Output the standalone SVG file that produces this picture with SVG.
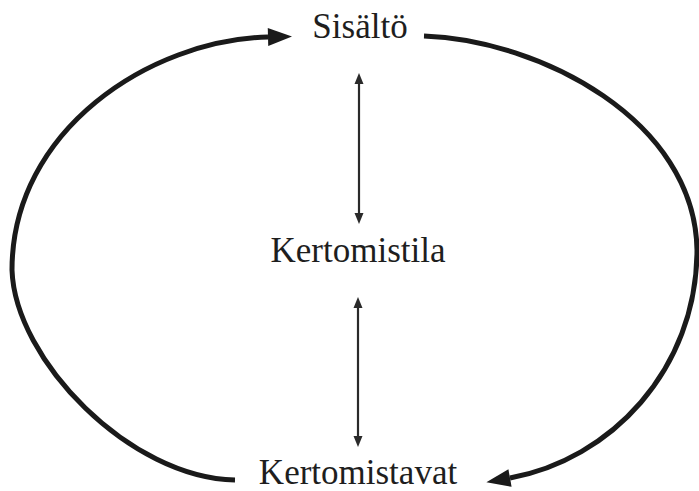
<svg xmlns="http://www.w3.org/2000/svg" width="699" height="491" viewBox="0 0 699 491">
  <style>
    .lbl { font-family: "Liberation Serif", "Times New Roman", serif; font-size: 35px; fill: #1e1e1e; text-anchor: middle; }
    .thick { fill: none; stroke: #1a1a1a; stroke-width: 5; stroke-linecap: butt; }
    .thin { fill: none; stroke: #2a2a2a; stroke-width: 2.2; }
  </style>
  <defs>
    <marker id="bigHead" markerUnits="userSpaceOnUse" markerWidth="26" markerHeight="20" refX="0" refY="9" orient="auto" overflow="visible">
      <path d="M0,0 L24,9 L0,18 z" fill="#1a1a1a"/>
    </marker>
    <marker id="smallHead" markerUnits="userSpaceOnUse" markerWidth="12" markerHeight="10" refX="0" refY="4.5" orient="auto-start-reverse" overflow="visible">
      <path d="M0,0 L11,4.5 L0,9 z" fill="#2a2a2a"/>
    </marker>
  </defs>
  <rect width="699" height="491" fill="#ffffff"/>
  <g id="connectors">
    <path class="thick" d="M 235,480 C 130,478 15,360 12,270 C 12,130 150,40 268,37" marker-end="url(#bigHead)"/>
    <path class="thick" d="M 424,36 C 540,40 695,120 697,250 C 697,370 610,460 510,478" marker-end="url(#bigHead)"/>
    <path class="thin" d="M 359,84 L 359,213" marker-start="url(#smallHead)" marker-end="url(#smallHead)"/>
    <path class="thin" d="M 358,308 L 358,436" marker-start="url(#smallHead)" marker-end="url(#smallHead)"/>
  </g>
  <g id="node-sisalto">
    <text class="lbl" x="360" y="38">Sisältö</text>
  </g>
  <g id="node-kertomistila">
    <text class="lbl" x="358" y="262">Kertomistila</text>
  </g>
  <g id="node-kertomistavat">
    <text class="lbl" x="358" y="484">Kertomistavat</text>
  </g>
</svg>
